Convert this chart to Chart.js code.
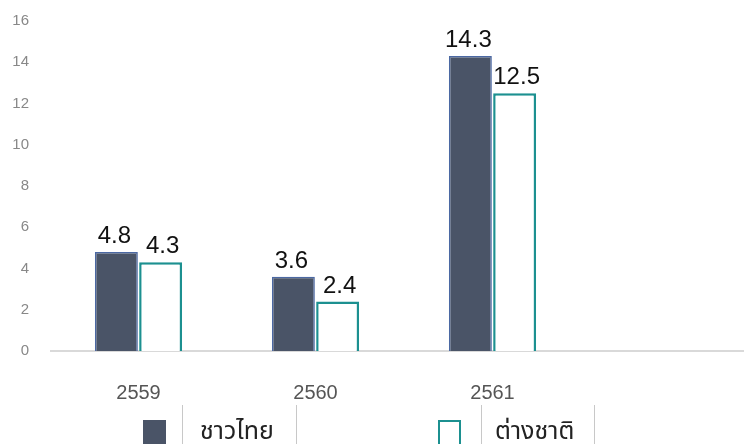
<!DOCTYPE html>
<html>
<head>
<meta charset="utf-8">
<script src="https://cdn.jsdelivr.net/npm/chart.js@4"></script>
<style>
  html, body { margin: 0; padding: 0; background: #fff; overflow: hidden; }
  #wrap { position: relative; width: 744px; height: 444px; }
  #chart { position: absolute; left: 0; top: 0; }
  #legend { position: absolute; left: 0; top: 0; width: 744px; height: 444px; pointer-events: none; }
  .sw { position: absolute; top: 420px; width: 23px; height: 30px; box-sizing: border-box; }
  .sep { position: absolute; top: 405px; width: 1px; height: 45px; background: #c8c8c8; }
  .lt { position: absolute; top: 416px; font-family: "Noto Sans Thai", "Noto Sans", sans-serif; font-size: 25px; color: #222; line-height: 30px; }
</style>
</head>
<body>
<div id="wrap">
  <canvas id="chart" width="744" height="400"></canvas>
  <div id="legend"></div>
</div>
<script>
document.addEventListener('DOMContentLoaded', function () {
    const years = ['2559', '2560', '2561'];
    const thaiVisitors = [4.8, 3.6, 14.3];
    const foreignVisitors = [4.3, 2.4, 12.5];
    const yTicks = [0, 2, 4, 6, 8, 10, 12, 14, 16];
    const seriesNames = ['ชาวไทย', 'ต่างชาติ'];

    const ctx = document.getElementById('chart').getContext('2d');

    // baseline at zero runs past the plot to the right edge
    const baseLine = {
        id: 'baseLine',
        beforeDatasetsDraw(chart) {
            const y = chart.scales.y.getPixelForValue(0);
            const c = chart.ctx;
            c.save();
            c.strokeStyle = '#d9d9d9';
            c.lineWidth = 2;
            c.beginPath();
            c.moveTo(chart.chartArea.left, y);
            c.lineTo(chart.width, y);
            c.stroke();
            c.restore();
        }
    };

    // value labels above each bar
    const valueLabels = {
        id: 'valueLabels',
        afterDatasetsDraw(chart) {
            const c = chart.ctx;
            c.save();
            c.font = '24px "Liberation Sans", Arial, sans-serif';
            c.fillStyle = '#111';
            c.textAlign = 'center';
            c.textBaseline = 'alphabetic';
            chart.data.datasets.forEach(function (ds, i) {
                const dx = i === 0 ? -2 : 2;
                chart.getDatasetMeta(i).data.forEach(function (bar, j) {
                    c.fillText(ds.data[j].toFixed(1), bar.x + dx, bar.y - 9);
                });
            });
            c.restore();
        }
    };

    const chart = new Chart(ctx, {
        type: 'bar',
        data: {
            labels: years,
            datasets: [{
                label: seriesNames[0],
                data: thaiVisitors,
                backgroundColor: '#4a5467',
                borderColor: '#4b68a3',
                borderWidth: 1.5
            }, {
                label: seriesNames[1],
                data: foreignVisitors,
                backgroundColor: '#ffffff',
                borderColor: '#1c9090',
                borderWidth: 2.5
            }]
        },
        options: {
            responsive: false,
            animation: false,
            layout: { padding: { top: 21, right: 163, left: 0, bottom: 0 } },
            categoryPercentage: 0.5,
            barPercentage: 0.97,
            plugins: {
                legend: { display: false },
                tooltip: { enabled: false }
            },
            scales: {
                x: {
                    grid: { display: false, drawTicks: false },
                    border: { display: false },
                    ticks: {
                        color: '#555',
                        padding: 30,
                        font: { family: '"Liberation Sans", Arial, sans-serif', size: 20 }
                    },
                    afterFit(scale) { scale.height = 49; }
                },
                y: {
                    min: 0,
                    max: 16,
                    afterBuildTicks(scale) { scale.ticks = yTicks.map(v => ({ value: v })); },
                    grid: { display: false, drawTicks: false },
                    border: { display: false },
                    ticks: {
                        color: '#888',
                        padding: 21,
                        font: { family: '"Liberation Sans", Arial, sans-serif', size: 15 }
                    },
                    afterFit(scale) {
                        scale.width = 50;
                        scale.paddingTop = 0;
                        scale.paddingBottom = 0;
                    }
                }
            }
        },
        plugins: [baseLine, valueLabels]
    });

    // bottom legend, laid out like a table row
    const legend = document.getElementById('legend');
    const spots = [
        { box: 143, sepA: 182, text: 200, sepB: 296 },
        { box: 438, sepA: 481, text: 495, sepB: 594 }
    ];
    chart.data.datasets.forEach(function (ds, i) {
        const s = spots[i];
        const sw = document.createElement('div');
        sw.className = 'sw';
        sw.style.left = s.box + 'px';
        sw.style.background = ds.backgroundColor;
        if (i === 1) sw.style.border = '2.5px solid ' + ds.borderColor;
        legend.appendChild(sw);
        [s.sepA, s.sepB].forEach(function (x) {
            const sep = document.createElement('div');
            sep.className = 'sep';
            sep.style.left = x + 'px';
            legend.appendChild(sep);
        });
        const t = document.createElement('div');
        t.className = 'lt';
        t.style.left = s.text + 'px';
        t.textContent = ds.label;
        legend.appendChild(t);
    });
});
</script>
</body>
</html>
